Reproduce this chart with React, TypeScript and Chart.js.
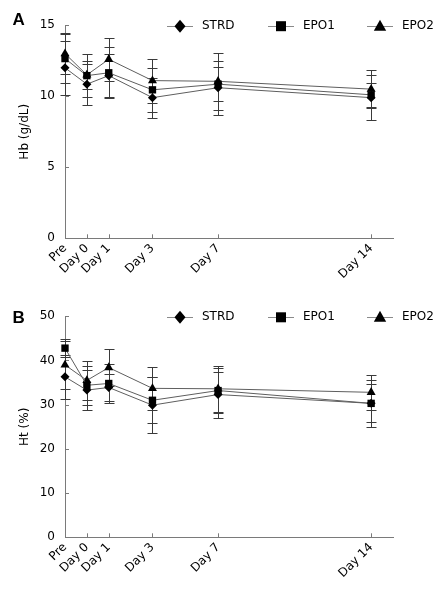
import React, { useEffect, useRef } from 'react';
import { Chart, registerables } from 'chart.js';

Chart.register(...registerables);

// ---- data ----
const categories = ['Pre', 'Day 0', 'Day 1', 'Day 3', 'Day 7', 'Day 14'];
const dayPositions = [-1, 0, 1, 3, 6, 13];
const seriesNames = ['STRD', 'EPO1', 'EPO2'];

const hbSTRD = [12.0, 10.85, 11.45, 9.9, 10.6, 9.9];
const hbEPO1 = [12.65, 11.45, 11.65, 10.45, 10.85, 10.1];
const hbEPO2 = [13.0, 11.5, 12.6, 11.1, 11.05, 10.5];
const hbSTRDsd = [1.9, 1.45, 1.5, 1.4, 1.9, 1.6];
const hbEPO1sd = [1.7, 1.5, 1.8, 1.55, 1.2, 0.85];
const hbEPO2sd = [1.45, 1.0, 1.5, 1.55, 2.0, 1.35];

const htSTRD = [36.3, 33.3, 33.9, 29.9, 32.3, 30.3];
const htEPO1 = [42.8, 34.4, 34.8, 31.0, 33.2, 30.3];
const htEPO2 = [39.0, 35.5, 38.4, 33.7, 33.6, 32.8];
const htSTRDsd = [5.0, 4.5, 3.0, 6.4, 5.2, 4.3];
const htEPO1sd = [2.0, 4.4, 4.5, 5.2, 5.1, 5.3];
const htEPO2sd = [5.5, 4.4, 4.1, 4.9, 5.2, 4.0];

const hbTicks = [0, 5, 10, 15];
const htTicks = [0, 10, 20, 30, 40, 50];

// ---- styles ----
const FONT = '"DejaVu Sans", sans-serif';
const AXIS_COLOR = '#7a7a7a';
const LINE_COLOR = '#5e5e5e';
const ERR_COLOR = '#3a3a3a';
const pointStyles = ['rectRot', 'rect', 'triangle'];
const pointRadii = [4.5, 5.2, 5.2];

function drawMarker(ctx: CanvasRenderingContext2D, style: string, x: number, y: number, r: number) {
  ctx.beginPath();
  if (style === 'rectRot') {
    ctx.moveTo(x, y - r);
    ctx.lineTo(x + r * 0.85, y);
    ctx.lineTo(x, y + r);
    ctx.lineTo(x - r * 0.85, y);
  } else if (style === 'rect') {
    ctx.rect(x - r, y - r, 2 * r, 2 * r);
  } else {
    ctx.moveTo(x, y - r);
    ctx.lineTo(x + r * 0.95, y + r * 0.7);
    ctx.lineTo(x - r * 0.95, y + r * 0.7);
  }
  ctx.closePath();
  ctx.fill();
}

const decorPlugin = {
  id: 'panelDecor',
  beforeDatasetsDraw(chart: any) {
    const ctx = chart.ctx as CanvasRenderingContext2D;
    const xs = chart.scales.x;
    const ys = chart.scales.y;
    const area = chart.chartArea;
    ctx.save();
    // inner tick marks
    ctx.strokeStyle = AXIS_COLOR;
    ctx.lineWidth = 1;
    ctx.beginPath();
    xs.ticks.forEach((t: any) => {
      const px = Math.round(xs.getPixelForValue(t.value)) + 0.5;
      if (Math.abs(px - area.left) < 2) return;
      ctx.moveTo(px, area.bottom);
      ctx.lineTo(px, area.bottom - 4);
    });
    ys.ticks.forEach((t: any) => {
      const py = Math.round(ys.getPixelForValue(t.value)) + 0.5;
      if (Math.abs(py - area.bottom) < 2) return;
      ctx.moveTo(area.left, py);
      ctx.lineTo(area.left + 4, py);
    });
    ctx.stroke();
    // error bars
    ctx.strokeStyle = ERR_COLOR;
    ctx.beginPath();
    chart.data.datasets.forEach((ds: any) => {
      ds.data.forEach((p: any, j: number) => {
        const sd = ds.sd[j];
        const px = Math.round(xs.getPixelForValue(p.x)) + 0.5;
        const top = Math.round(ys.getPixelForValue(p.y + sd)) + 0.5;
        const bot = Math.round(ys.getPixelForValue(p.y - sd)) + 0.5;
        ctx.moveTo(px, top);
        ctx.lineTo(px, bot);
        ctx.moveTo(px - 5, top);
        ctx.lineTo(px + 5, top);
        ctx.moveTo(px - 5, bot);
        ctx.lineTo(px + 5, bot);
      });
    });
    ctx.stroke();
    ctx.restore();
  },
  afterDraw(chart: any) {
    const ctx = chart.ctx as CanvasRenderingContext2D;
    const area = chart.chartArea;
    const y = area.top + 1;
    const offsets = [-213, -112, -13];
    const legendSizes = [6.5, 5, 6.5];
    ctx.save();
    chart.data.datasets.forEach((ds: any, i: number) => {
      const mx = area.right + offsets[i];
      ctx.strokeStyle = '#8a8a8a';
      ctx.lineWidth = 1;
      ctx.beginPath();
      ctx.moveTo(mx - 13, Math.round(y) + 0.5);
      ctx.lineTo(mx + 13, Math.round(y) + 0.5);
      ctx.stroke();
      ctx.fillStyle = '#000';
      drawMarker(ctx, pointStyles[i], mx, y, legendSizes[i]);
      ctx.font = '12px ' + FONT;
      ctx.textBaseline = 'middle';
      ctx.textAlign = 'left';
      ctx.fillText(ds.label, mx + 22, y);
    });
    ctx.restore();
  },
};

function makeConfig(values: number[][], sds: number[][], ticks: number[], yTitle: string, padTop: number, padBottom: number) {
  const yMax = ticks[ticks.length - 1];
  const step = ticks[1] - ticks[0];
  return {
    type: 'line' as const,
    data: {
      datasets: seriesNames.map((name, i) => ({
        label: name,
        data: dayPositions.map((x, j) => ({ x, y: values[i][j] })),
        sd: sds[i],
        borderColor: LINE_COLOR,
        borderWidth: 1,
        pointStyle: pointStyles[i],
        pointRadius: pointRadii[i],
        pointBackgroundColor: '#000',
        pointBorderColor: '#000',
        pointBorderWidth: 0,
        fill: false,
        tension: 0,
        clip: false,
      })),
    },
    options: {
      animation: false,
      responsive: false,
      maintainAspectRatio: false,
      layout: { padding: { left: 10, right: 42, top: padTop, bottom: padBottom } },
      plugins: { legend: { display: false }, tooltip: { enabled: false } },
      scales: {
        x: {
          type: 'linear',
          min: -1,
          max: 14,
          afterBuildTicks: (s: any) => {
            s.ticks = dayPositions.map((v) => ({ value: v }));
          },
          ticks: {
            callback: (_v: any, idx: number) => categories[idx],
            minRotation: 45,
            maxRotation: 45,
            autoSkip: false,
            color: '#000',
            font: { family: FONT, size: 12 },
            padding: 3,
          },
          grid: { display: false, drawTicks: false },
          border: { display: true, color: AXIS_COLOR, width: 1 },
          afterFit: (s: any) => {
            s.height = 50;
          },
        },
        y: {
          min: 0,
          max: yMax,
          afterBuildTicks: (s: any) => {
            s.ticks = ticks.map((v) => ({ value: v }));
          },
          ticks: {
            stepSize: step,
            color: '#000',
            font: { family: FONT, size: 12 },
            padding: 10,
          },
          grid: { display: false, drawTicks: false },
          border: { display: true, color: AXIS_COLOR, width: 1 },
          title: {
            display: true,
            text: yTitle,
            color: '#000',
            font: { family: FONT, size: 12 },
            padding: { top: 0, bottom: 0 },
          },
          afterFit: (s: any) => {
            s.width = 47;
          },
        },
      },
    },
    plugins: [decorPlugin],
  };
}

export default function App() {
  const refA = useRef<HTMLCanvasElement>(null);
  const refB = useRef<HTMLCanvasElement>(null);

  useEffect(() => {
    const a = new Chart(
      refA.current as HTMLCanvasElement,
      makeConfig([hbSTRD, hbEPO1, hbEPO2], [hbSTRDsd, hbEPO1sd, hbEPO2sd], hbTicks, 'Hb (g/dL)', 9.3, 9.7) as any
    );
    const b = new Chart(
      refB.current as HTMLCanvasElement,
      makeConfig([htSTRD, htEPO1, htEPO2], [htSTRDsd, htEPO1sd, htEPO2sd], htTicks, 'Ht (%)', 18.3, 0.7) as any
    );
    return () => {
      a.destroy();
      b.destroy();
    };
  }, []);

  const letter: React.CSSProperties = {
    position: 'absolute',
    font: 'bold 17px "Liberation Sans", Arial, sans-serif',
    lineHeight: '17px',
    color: '#000',
  };

  return (
    <div style={{ position: 'relative', width: 427, height: 580 }}>
      <canvas ref={refA} width={427} height={290} style={{ position: 'absolute', left: 0, top: 0, width: 427, height: 290 }} />
      <canvas ref={refB} width={427} height={290} style={{ position: 'absolute', left: 0, top: 290, width: 427, height: 290 }} />
      <div style={{ ...letter, left: 4.5, top: 3 }}>A</div>
      <div style={{ ...letter, left: 4.5, top: 300.5 }}>B</div>
    </div>
  );
}
